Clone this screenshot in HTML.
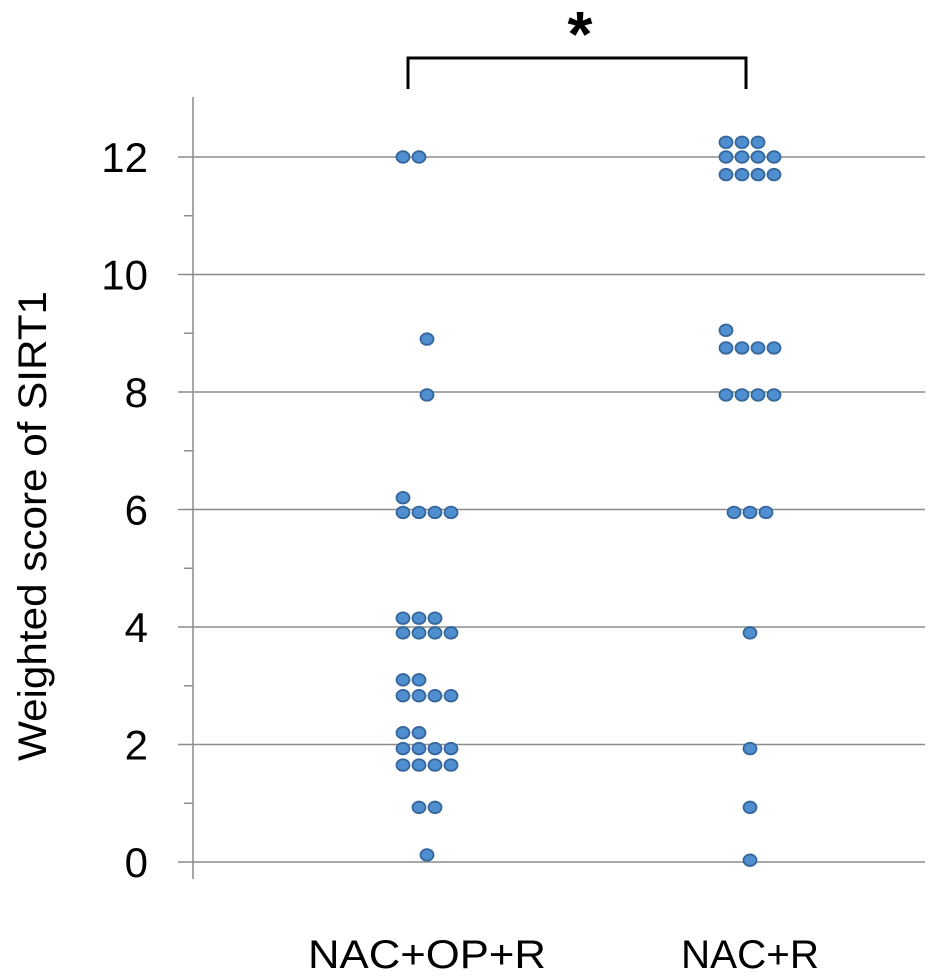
<!DOCTYPE html>
<html><head><meta charset="utf-8"><style>
html,body{margin:0;padding:0;background:#fff;}
svg{display:block;font-family:"Liberation Sans",sans-serif;}
</style></head><body>
<svg id="chart" width="945" height="980" viewBox="0 0 945 980"></svg>
<script>
const categories = ["NAC+OP+R", "NAC+R"];
const yTicks = [0, 2, 4, 6, 8, 10, 12];
const g1Values = [12, 8.9, 7.95, 6.2, 5.95, 4.15, 3.9, 3.1, 2.83, 2.2, 1.93, 1.65, 0.93, 0.12];
const g1Counts = [2, 1, 1, 1, 4, 3, 4, 2, 4, 2, 4, 4, 2, 1];
const g1Align  = ["l","c","c","l","l","l","l","l","l","l","l","l","c","c"];
const g2Values = [12.25, 12, 11.7, 9.05, 8.75, 7.95, 5.95, 3.9, 1.93, 0.93, 0.03];
const g2Counts = [3, 4, 4, 1, 4, 4, 3, 1, 1, 1, 1];
const g2Align  = ["l","l","l","l","l","l","c","c","c","c","c"];

const NS = "http://www.w3.org/2000/svg";
const svg = document.getElementById("chart");
const y0 = 862, pxPerUnit = (862 - 157) / 12;
function yScale(v){ return y0 - v * pxPerUnit; }
const groupCenters = [427, 750];
function xScale(i){ return groupCenters[i]; }
const dx = 16;
const labelWidths = [238, 138];
function mk(tag, attrs){ const e = document.createElementNS(NS, tag); for (const k in attrs) e.setAttribute(k, attrs[k]); svg.appendChild(e); return e; }

yTicks.forEach(t => {
  const y = yScale(t);
  const g = mk("line", {x1:178, x2:925, y1:y, y2:y, stroke:"#8c8c8c", "stroke-width":1.5});
  
  
  const lb = mk("text", {x:148, y:y+15, "text-anchor":"end", "font-size":42, fill:"#000"});
  
  
  lb.textContent = t;
});
for (let t = 1; t < 13; t += 2) {
  const y = yScale(t);
  const m = mk("line", {x1:184, x2:193, y1:y, y2:y, stroke:"#8c8c8c", "stroke-width":1.5});
  
  
}
const ax = mk("line", {x1:193, x2:193, y1:97, y2:879, stroke:"#8c8c8c", "stroke-width":1.5});



const yt = mk("text", {x:0, y:0, transform:"translate(46,526) rotate(-90)", "text-anchor":"middle", "font-size":40, textLength:470, lengthAdjust:"spacingAndGlyphs", fill:"#000"});


yt.textContent = "Weighted score of SIRT1";

categories.forEach((c, i) => {
  const t = mk("text", {x:xScale(i) - labelWidths[i]/2, y:968, "font-size":40, textLength:labelWidths[i], lengthAdjust:"spacingAndGlyphs", fill:"#000"});
  
  
  t.textContent = c;
});

function drawGroup(gi, vals, counts, aligns){
  vals.forEach((v, r) => {
    const n = counts[r];
    const cx0 = xScale(gi);
    const start = aligns[r] === "c" ? cx0 - (n - 1) * dx / 2 : cx0 - 1.5 * dx;
    for (let k = 0; k < n; k++) {
      const d = mk("ellipse", {cx:start + k*dx, cy:yScale(v), rx:6.5, ry:5.8, fill:"#4f8fd0", stroke:"#35669c", "stroke-width":1.8});
      
      
    }
  });
}
drawGroup(0, g1Values, g1Counts, g1Align);
drawGroup(1, g2Values, g2Counts, g2Align);

const br = mk("path", {d:"M408 89 V58 H746 V89", fill:"none", stroke:"#000", "stroke-width":3});


const st = mk("text", {x:580, y:56, "text-anchor":"middle", "font-size":64, "font-weight":"bold", fill:"#000"});


st.textContent = "*";
</script>
</body></html>
